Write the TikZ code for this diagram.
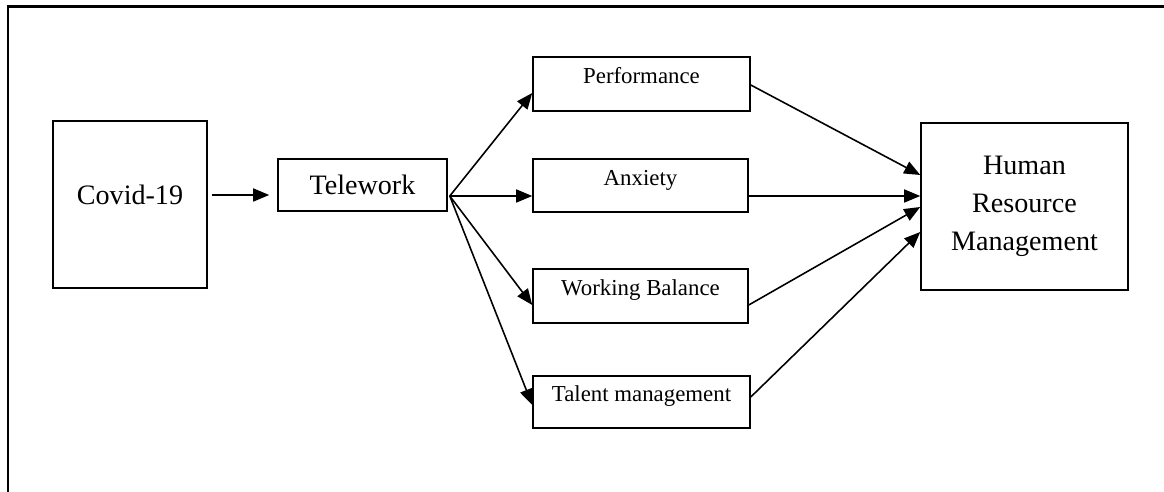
\documentclass[tikz,border=0pt]{standalone}
\usepackage{fontspec}
\setmainfont{Liberation Serif}
\usetikzlibrary{calc,arrows.meta}

\begin{document}
\begin{tikzpicture}[x=0.02cm, y=-0.02cm,
  box/.style={draw, rectangle, line width=0.9pt, inner sep=0pt},
  big/.style={box, font=\fontsize{16}{21.7}\selectfont},
  small/.style={box, font=\fontsize{13}{15}\selectfont, text height=0pt, text depth=0pt},
  arr/.style={-{Triangle[length=0.32cm, width=0.26cm]}, line width=0.9pt}]
\useasboundingbox (0, 0) rectangle (1164, 492);
\draw [line width=1.7pt] (8, 492) -- (8, 7) -- (1164, 7);

\node [big, minimum width=3.08cm, minimum height=3.34cm, text height=0pt, text depth=0pt] (covid) at (130, 204.5) {Covid-19};
\node [big, minimum width=3.38cm, minimum height=1.04cm] (telework) at (362.5, 185) {Telework};

\node [small, minimum width=4.34cm, minimum height=1.08cm] (perf) at (641.5, 84) {Performance};
\node [small, minimum width=4.30cm, minimum height=1.06cm] (anxiety) at (640.5, 185.5) {Anxiety};
\node [small, minimum width=4.30cm, minimum height=1.08cm] (balance) at (640.5, 296) {Working Balance};
\node [small, minimum width=4.34cm, minimum height=1.04cm] (talent) at (641.5, 402) {Talent management};

\node [big, align=center, minimum width=4.14cm, minimum height=3.34cm] (hrm) at (1024.5, 206.5) {Human\\Resource\\Management};

\draw [arr] ($(covid.east)+(4, -9.5)$) -- ($(telework.west)+(-8, 10)$);

\coordinate (fork) at ($(telework.east)+(2, 11)$);
\draw [arr] (fork) -- ($(perf.west)+(0, 9)$);
\draw [arr] (fork) -- ($(anxiety.west)+(0, 10.5)$);
\draw [arr] (fork) -- ($(balance.west)+(0, 9)$);
\draw [arr] (fork) -- ($(talent.west)+(0, 3)$);

\draw [arr] ($(perf.east)+(0, 1)$) -- ($(hrm.west)+(0, -31.5)$);
\draw [arr] ($(anxiety.east)+(0, 10.5)$) -- ($(hrm.west)+(0, -10.5)$);
\draw [arr] ($(balance.east)+(0, 9)$) -- ($(hrm.west)+(0, 0.5)$);
\draw [arr] ($(talent.east)+(0, -5)$) -- ($(hrm.west)+(0, 25.5)$);
\end{tikzpicture}
\end{document}
